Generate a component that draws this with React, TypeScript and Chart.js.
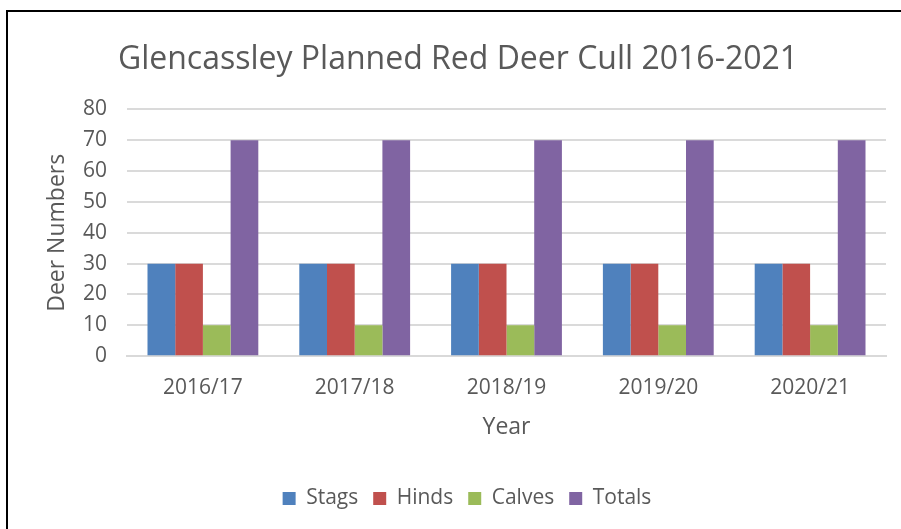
import React, { useEffect, useRef } from "react";
import { Chart, registerables } from "chart.js";

Chart.register(...registerables);

const categories = ["2016/17", "2017/18", "2018/19", "2019/20", "2020/21"];
const stags = [30, 30, 30, 30, 30];
const hinds = [30, 30, 30, 30, 30];
const calves = [10, 10, 10, 10, 10];
const totals = [70, 70, 70, 70, 70];
const seriesNames = ["Stags", "Hinds", "Calves", "Totals"];
const seriesColors = ["#4F81BD", "#C0504D", "#9BBB59", "#8064A2"];

const FONT = "'Open Sans', sans-serif";
const TEXT = "#595959";

const shiftLegend = {
  id: "shiftLegend",
  afterLayout(chart: any) {
    const lg = chart.legend;
    if (lg) {
      lg.left += 9;
      lg.right += 9;
    }
  },
};

export default function App() {
  const ref = useRef<HTMLCanvasElement | null>(null);

  useEffect(() => {
    if (!ref.current) return;
    const values = [stags, hinds, calves, totals];
    const chart = new Chart(ref.current, {
      type: "bar",
      data: {
        labels: categories,
        datasets: values.map((v, i) => ({
          label: seriesNames[i],
          data: v,
          backgroundColor: seriesColors[i],
          borderWidth: 0,
          categoryPercentage: 0.73,
          barPercentage: 1.0,
        })),
      },
      plugins: [shiftLegend],
      options: {
        animation: false,
        responsive: false,
        maintainAspectRatio: false,
        layout: { padding: { left: 30, right: 15, top: 12, bottom: 10 } },
        plugins: {
          title: {
            display: true,
            text: "Glencassley Planned Red Deer Cull 2016-2021",
            color: TEXT,
            font: { family: FONT, size: 32, weight: "normal" },
            padding: { top: 29, bottom: 30 },
          },
          legend: {
            position: "bottom",
            labels: {
              color: TEXT,
              font: { family: FONT, size: 21 },
              boxWidth: 13,
              boxHeight: 13,
              padding: 15,
            },
          },
          tooltip: { enabled: false },
        },
        scales: {
          x: {
            grid: { display: false, drawTicks: false },
            border: { display: true, color: "#D9D9D9", width: 2 },
            ticks: { color: TEXT, font: { family: FONT, size: 21 }, padding: 19 },
            title: {
              display: true,
              text: "Year",
              color: TEXT,
              font: { family: FONT, size: 23 },
              padding: { top: -6, bottom: 32 },
            },
          },
          y: {
            min: 0,
            max: 80,
            afterFit: (scale: any) => {
              scale.width = 97;
            },
            ticks: { stepSize: 10, color: TEXT, font: { family: FONT, size: 21 }, padding: 20 },
            grid: { color: "#DADADA", lineWidth: 2, drawTicks: false },
            border: { display: false },
            title: {
              display: true,
              text: "Deer Numbers",
              color: TEXT,
              font: { family: FONT, size: 23 },
              padding: { top: 14, bottom: 0 },
            },
          },
        },
      },
    });
    return () => chart.destroy();
  }, []);

  return (
    <div style={{ position: "absolute", left: 0, top: 0, width: 901, height: 529, overflow: "hidden", background: "#fff" }}>
      <canvas ref={ref} width={901} height={529} style={{ position: "absolute", left: 0, top: 0 }} />
      <div style={{ position: "absolute", left: 6, top: 10, width: 2, height: 519, background: "#000" }} />
      <div style={{ position: "absolute", left: 6, top: 10, width: 895, height: 2, background: "#000" }} />
    </div>
  );
}
